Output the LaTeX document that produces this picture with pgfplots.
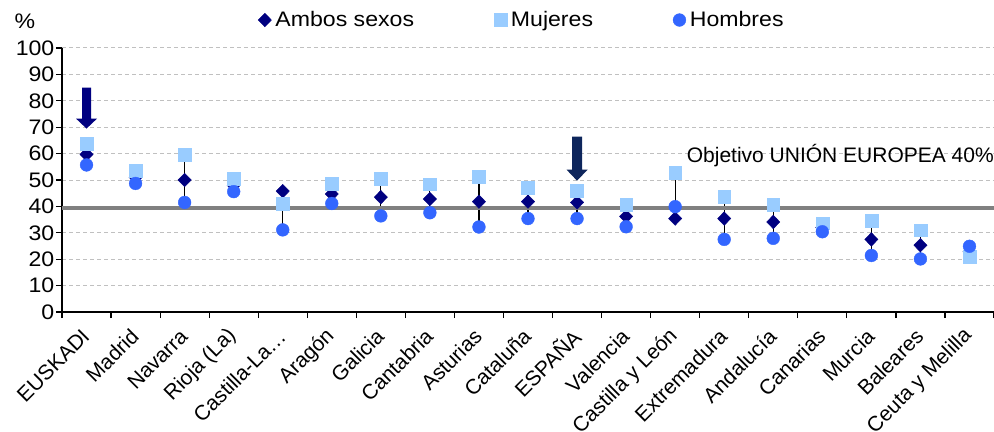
\documentclass[border=0pt]{standalone}
\usepackage{fontspec}
\setmainfont[FakeStretch=1.1]{Liberation Sans}
\newfontfamily\plainsans{Liberation Sans}
\usepackage{pgfplots}
\usepackage{pgfplotstable}
\pgfplotsset{compat=1.18}
\definecolor{ambos}{RGB}{0,0,128}
\definecolor{mujeres}{RGB}{153,204,255}
\definecolor{hombres}{RGB}{51,102,255}
\definecolor{eugray}{RGB}{128,128,128}
\definecolor{gridc}{RGB}{192,192,192}
\definecolor{arrowb}{RGB}{14,38,92}

\pgfplotstableread{
i a m h
0 59.7 63.9 55.7
1 51.0 53.5 48.7
2 50.0 59.5 41.5
3 48.0 50.6 45.6
4 45.8 41.1 31.1
5 44.7 48.7 41.1
6 43.5 50.6 36.4
7 42.8 48.4 37.6
8 41.8 51.1 32.2
9 41.8 47.1 35.4
10 41.5 45.8 35.4
11 36.2 40.5 32.3
12 35.4 52.7 39.9
13 35.4 43.7 27.5
14 34.1 40.5 27.9
15 32.0 33.6 30.4
16 27.5 34.6 21.4
17 25.3 31.0 20.1
18 22.8 20.9 24.9
}\data

\begin{document}
\fontsize{21bp}{25bp}\selectfont
\begin{tikzpicture}
\useasboundingbox (-62bp,-120bp) rectangle (932bp,312bp);
\begin{axis}[
  at={(0,0)}, anchor=south west,
  scale only axis, width=932bp, height=264bp,
  xmin=-0.5, xmax=18.5, ymin=0, ymax=100,
  clip=false,
  axis x line=bottom, axis y line=left,
  axis line style={-, black, line width=1.2bp},
  xtick={0,1,...,18},
  xticklabels={EUSKADI, Madrid, Navarra, Rioja (La), Castilla-La…, Aragón, Galicia, Cantabria, Asturias, Cataluña, ESPAÑA, Valencia, Castilla y León, Extremadura, Andalucía, Canarias, Murcia, Baleares, Ceuta y Melilla},
  minor xtick={-0.5,0.5,...,18.5},
  major x tick style={draw=none},
  xticklabel style={xshift=0bp, yshift=-14bp, rotate=45, anchor=east, inner sep=1bp, font=\plainsans},
  ytick={0,10,...,100},
  /pgf/number format/assume math mode=true,
  tick align=outside, major tick length=6bp, minor tick length=6bp,
  tick style={black, line width=1.2bp},
  ymajorgrids,
  major grid style={draw=gridc, dash pattern=on 4bp off 3bp, line width=1bp},
  yticklabel style={inner sep=1.5bp},
  legend columns=3,
  legend style={draw=none, fill=none, inner sep=0pt, at={(rel axis cs:0.2103,1.106)}, anchor=west,
    /tikz/every even column/.append style={column sep=76bp},
    nodes={inner xsep=4bp, inner ysep=0pt}},
  legend cell align=left,
  legend image code/.code={\draw[#1] plot coordinates {(0bp,0bp)};},
]
% range lines
\addplot[forget plot, black, line width=1.2bp, unbounded coords=jump] coordinates {
(0,55.7) (0,63.9) (0.5,nan)
(1,48.7) (1,53.5) (1.5,nan)
(2,41.5) (2,59.5) (2.5,nan)
(3,45.6) (3,50.6) (3.5,nan)
(4,31.1) (4,45.8) (4.5,nan)
(5,41.1) (5,48.7) (5.5,nan)
(6,36.4) (6,50.6) (6.5,nan)
(7,37.6) (7,48.4) (7.5,nan)
(8,32.2) (8,51.1) (8.5,nan)
(9,35.4) (9,47.1) (9.5,nan)
(10,35.4) (10,45.8) (10.5,nan)
(11,32.3) (11,40.5) (11.5,nan)
(12,35.4) (12,52.7) (12.5,nan)
(13,27.5) (13,43.7) (13.5,nan)
(14,27.9) (14,40.5) (14.5,nan)
(15,30.4) (15,33.6) (15.5,nan)
(16,21.4) (16,34.6) (16.5,nan)
(17,20.1) (17,31.0) (17.5,nan)
(18,20.9) (18,24.9)
};
\addplot[only marks, mark=diamond*, mark size=6.8bp, color=ambos, mark options={xscale=1.3}] table[x=i,y=a] {\data};
\addlegendentry{Ambos sexos}
\addplot[only marks, mark=square*, mark size=6.4bp, color=mujeres] table[x=i,y=m] {\data};
\addlegendentry{Mujeres}
\addplot[only marks, mark=*, mark size=6.4bp, color=hombres] table[x=i,y=h] {\data};
\addlegendentry{Hombres}
% EU objective line
\addplot[forget plot, color=eugray, line width=4.2bp] coordinates {(-0.5,39.5) (18.5,39.5)};
\node[anchor=east, font=\plainsans, inner sep=0pt] at (axis cs:18.5,59.1) {Objetivo UNIÓN EUROPEA 40\%};
\node[inner sep=0pt] at (rel axis cs:-0.0397,1.102) {\%};
\coordinate (arrA) at (axis cs:0,85);
\coordinate (arrB) at (axis cs:10,66.4);
\end{axis}
% arrows
\fill[ambos] (arrA) ++(-4.5bp,0) -- ++(9bp,0) -- ++(0,-31bp) -- ++(6bp,0) -- ++(-10.5bp,-10bp) -- ++(-10.5bp,10bp) -- ++(6bp,0) -- cycle;
\fill[arrowb] (arrB) ++(-5bp,0) -- ++(10bp,0) -- ++(0,-33bp) -- ++(5.5bp,0) -- ++(-10.5bp,-11bp) -- ++(-10.5bp,11bp) -- ++(5.5bp,0) -- cycle;
\end{tikzpicture}
\end{document}
